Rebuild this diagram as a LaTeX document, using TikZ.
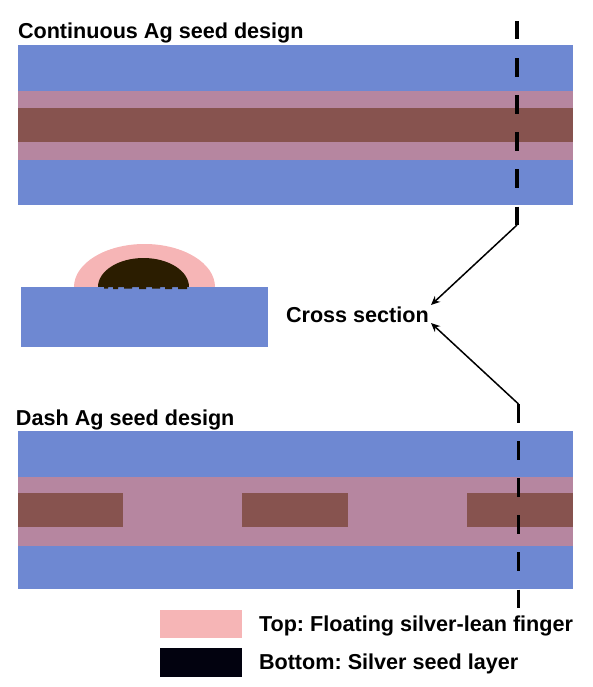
\documentclass[tikz,border=0pt]{standalone}
\usepackage{fontspec}
\setmainfont{Liberation Sans}
\usetikzlibrary{arrows.meta}
\frenchspacing
\definecolor{subblue}{HTML}{6E88D2}
\definecolor{bandpink}{HTML}{B686A0}
\definecolor{bandbrown}{HTML}{87534F}
\definecolor{leanpink}{HTML}{F6B5B6}
\definecolor{seeddark}{HTML}{2B1D00}
\definecolor{legendblack}{HTML}{02020F}
\tikzset{
  label/.style={inner sep=0pt,outer sep=0pt,font=\bfseries\fontsize{21.6}{24}\selectfont,anchor=base west,text=black},
  cutline/.style={line width=3.4pt,dash pattern=on 18.5pt off 18.6pt,draw=black},
  pointer/.style={line width=1.5pt,-{Stealth[length=9pt,width=8pt]},draw=black}
}
\begin{document}
\begin{tikzpicture}[x=1pt,y=-1pt]
\useasboundingbox (0,0) rectangle (593,687);
% top panel
\fill[subblue] (18,45) rectangle (573,205);
\fill[bandpink] (18,91) rectangle (573,160);
\fill[bandbrown] (18,108) rectangle (573,142);
% cross section
\begin{scope}
\clip (60,230) rectangle (230,287);
\fill[leanpink] (144.5,287) ellipse [x radius=70.5,y radius=43];
\fill[seeddark] (143.5,287) ellipse [x radius=45.5,y radius=29];
\end{scope}
\fill[subblue] (21,286.5) rectangle (268,347);
\fill[seeddark] (104,286) -- (104,288.5) -- (108,288.5) -- (108,287) -- (113,287) -- (113,289) -- (118,289) -- (118,287) -- (124,287) -- (124,288.5) -- (132,288.5) -- (132,287) -- (139,287) -- (139,289) -- (146,289) -- (146,287) -- (152,287) -- (152,288.5) -- (160,288.5) -- (160,287) -- (165,287) -- (165,289) -- (172,289) -- (172,287) -- (178,287) -- (178,289) -- (187,289) -- (187,286) -- cycle;
% bottom panel
\fill[subblue] (18,430.5) rectangle (573,589);
\fill[bandpink] (18,477) rectangle (573,546);
\fill[bandbrown] (18,493) rectangle (123,527);
\fill[bandbrown] (242,493) rectangle (348,527);
\fill[bandbrown] (466.5,493) rectangle (573,527);
% legend
\fill[leanpink] (160,610) rectangle (242,638);
\fill[legendblack] (160,648) rectangle (242,677);
% labels
\node[label] (titleA) at (18,39) {Continuous Ag seed design};
\node[label] (titleB) at (16,425) {Dash Ag seed design};
\node[label] (cross) at (286,322) {Cross section};
\node[label] (legA) at (259,631) {Top: Floating silver-lean finger};
\node[label] (legB) at (259,669) {Bottom: Silver seed layer};
% cut lines
\coordinate (cutAtop) at (517,21);
\coordinate (cutAend) at (517,225);
\coordinate (cutBtop) at (518.5,404);
\coordinate (cutBend) at (518.5,608);
\coordinate (tipA) at (431,305);
\coordinate (tipB) at (431,323);
\draw[cutline] (cutAtop) -- (cutAend);
\draw[cutline] (cutBtop) -- (cutBend);
\draw[pointer] (cutAend) -- (tipA);
\draw[pointer] (cutBtop) -- (tipB);
\end{tikzpicture}
\end{document}
